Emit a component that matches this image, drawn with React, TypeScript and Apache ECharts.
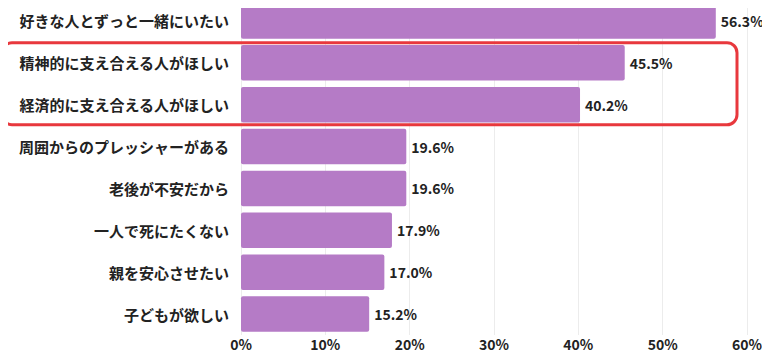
import React, { useEffect, useRef } from "react";
import * as echarts from "echarts";

const categories = [
  "好きな人とずっと一緒にいたい",
  "精神的に支え合える人がほしい",
  "経済的に支え合える人がほしい",
  "周囲からのプレッシャーがある",
  "老後が不安だから",
  "一人で死にたくない",
  "親を安心させたい",
  "子どもが欲しい",
];
const values = [56.3, 45.5, 40.2, 19.6, 19.6, 17.9, 17.0, 15.2];
const highlighted = [1, 2];

const FONT = "'Noto Sans CJK JP', 'Noto Sans', sans-serif";

export default function App() {
  const ref = useRef<HTMLDivElement>(null);
  useEffect(() => {
    const chart = echarts.init(ref.current!, null, { renderer: "svg" });
    chart.setOption({
      animation: false,
      grid: { left: 241, right: 23, top: -2, bottom: 18, containLabel: false },
      xAxis: {
        type: "value",
        min: 0,
        max: 60,
        interval: 10,
        axisLabel: {
          formatter: "{value}%",
          fontFamily: FONT,
          fontWeight: "bold",
          fontSize: 14,
          lineHeight: 14,
          color: "#222",
          margin: 2,
        },
        splitLine: { lineStyle: { color: "#ececec", width: 1 } },
        axisLine: { show: false },
        axisTick: { show: false },
      },
      yAxis: {
        type: "category",
        inverse: true,
        data: categories,
        axisLabel: {
          fontFamily: FONT,
          fontWeight: "bold",
          fontSize: 15,
          color: "#222",
          margin: 12,
        },
        axisLine: { show: false },
        axisTick: { show: false },
      },
      series: [
        {
          type: "bar",
          data: values,
          barCategoryGap: "15%",
          itemStyle: { color: "#b57bc6", borderRadius: 2 },
          label: {
            show: true,
            position: "right",
            formatter: (p: any) => p.value.toFixed(1) + "%",
            fontFamily: FONT,
            fontWeight: "bold",
            fontSize: 14,
            color: "#222",
            distance: 5,
          },
        },
      ],
    });
    const yTop = chart.convertToPixel({ yAxisIndex: 0 }, categories[highlighted[0]]) as number;
    const yBot = chart.convertToPixel({ yAxisIndex: 0 }, categories[highlighted[1]]) as number;
    const half = 337 / categories.length / 2;
    chart.setOption({
      graphic: [
        {
          type: "rect",
          shape: { x: 2, y: yTop - half + 1, width: 735, height: yBot - yTop + 2 * half - 2, r: 10 },
          style: { fill: "none", stroke: "#e8383d", lineWidth: 3 },
          z: 10,
        },
      ],
    });
    return () => chart.dispose();
  }, []);
  return <div ref={ref} style={{ width: 770, height: 353, marginLeft: -8, marginTop: -8 }} />;
}
